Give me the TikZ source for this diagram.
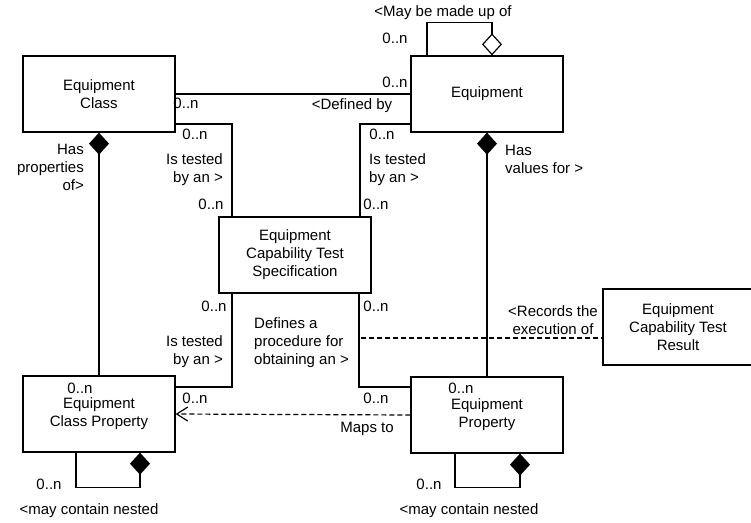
\documentclass[tikz,border=0pt]{standalone}
\usepackage{fontspec}
\setmainfont{Liberation Sans}
\usetikzlibrary{arrows.meta,calc}
\begin{document}
\begin{tikzpicture}[x=1pt,y=-1pt,
  font=\fontsize{15}{18}\selectfont,
  cls/.style={draw, line width=1.3pt, minimum width=152pt, minimum height=76pt, align=center, inner sep=0pt},
  conn/.style={line width=1.2pt},
  comp/.style={conn, -{Diamond[length=22pt,width=20pt]}},
  aggr/.style={conn, -{Diamond[open,length=22pt,width=20pt,fill=white]}},
  dep/.style={conn, dash pattern=on 5pt off 3pt},
  lbl/.style={inner sep=0pt, align=center},
  lbll/.style={inner sep=0pt, align=left, anchor=west},
  lblr/.style={inner sep=0pt, align=right, anchor=east}]
\useasboundingbox (0,0) rectangle (751,522);

% classes
\node[cls] (ec)   at (99,94)   {Equipment\\Class};
\node[cls] (eq)   at (487,94)  {Equipment};
\node[cls] (ects) at (295,255) {Equipment\\Capability Test\\Specification};
\node[cls] (ecp)  at (99,414)  {Equipment\\Class Property};
\node[cls] (ep)   at (487,415) {Equipment\\Property};
\node[cls, minimum width=150pt] (ectr) at (678,327) {Equipment\\Capability Test\\Result};

% associations
\draw[conn] (ec.east) -- (eq.west);
\draw[conn] ([yshift=-30pt]ec.east) -| ([xshift=-63pt]ects.north);
\draw[conn] ([yshift=-30pt]eq.west) -| ([xshift=65pt]ects.north);
\draw[conn] ([xshift=-63pt]ects.south) |- ([yshift=27pt]ecp.east);
\draw[conn] ([xshift=64pt]ects.south) |- ([yshift=28pt]ep.west);
\draw[comp] (ecp.north) -- (ec.south);
\draw[comp] (ep.north) -- (eq.south);

% self associations
\draw[aggr] ([xshift=-60pt]eq.north) -- ++(0,-33) -| ([xshift=5pt]eq.north);
\draw[comp] ([xshift=-23pt]ecp.south) -- ++(0,35) -| ([xshift=41pt]ecp.south);
\draw[comp] ([xshift=-32pt]ep.south) -- ++(0,34) -| ([xshift=33pt]ep.south);

% dependencies
\draw[dep, -{Straight Barb[length=11pt,width=14pt]}] (ep.west) -- (ecp.east);
\coordinate (assoc) at (361,338);
\draw[dep] (assoc) -- (ectr.west |- assoc);

% labels
\node[lbl] (l1) at (443,13) {<May be made up of};
\node[lbl] (m1) at (395,38) {0..n};
\node[lbl] (m2) at (395,82) {0..n};
\node[lbl] (l2) at (352,106) {<Defined by};
\node[lbl] (m3) at (186,103) {0..n};
\node[lbl] (m4) at (195,134) {0..n};
\node[lblr] (l3) at (223,170) {Is tested\\by an >};
\node[lbl] (m5) at (211,204) {0..n};
\node[lbl] (m6) at (382,134) {0..n};
\node[lbll] (l4) at (369,170) {Is tested\\by an >};
\node[lbl] (m7) at (376,204) {0..n};
\node[lblr] (l5) at (84,167) {Has\\properties\\of>};
\node[lbll] (l6) at (505,159) {Has\\values for >};
\node[lbl] (m8) at (214,306) {0..n};
\node[lblr] (l7) at (223,352) {Is tested\\by an >};
\node[lbl] (m9) at (195,398) {0..n};
\node[lbl] (m10) at (80,388) {0..n};
\node[lbll] (l8) at (254,343) {Defines a\\procedure for\\obtaining an >};
\node[lbl] (m11) at (376,306) {0..n};
\node[lbl] (m12) at (376,398) {0..n};
\node[lbl] (l9) at (367,429) {Maps to};
\node[lbl] (l10) at (553,320) {<Records the\\execution of};
\node[lbl] (m13) at (461,388) {0..n};
\node[lbl] (m14) at (49,484) {0..n};
\node[lbl] (l11) at (89,511) {<may contain nested};
\node[lbl] (m15) at (429,484) {0..n};
\node[lbl] (l12) at (469,511) {<may contain nested};
\end{tikzpicture}
\end{document}
